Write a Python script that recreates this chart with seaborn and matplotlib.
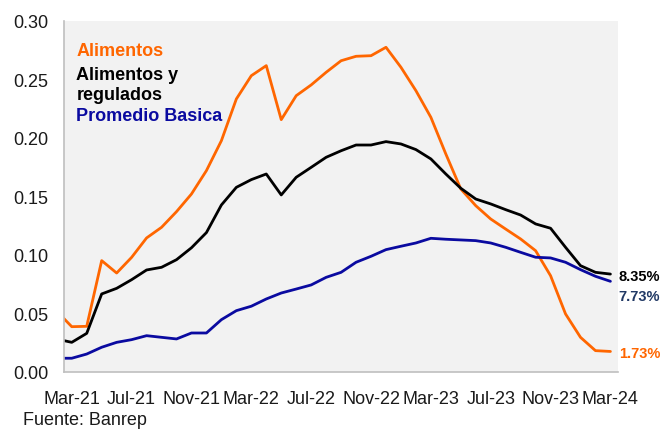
import numpy as np
import pandas as pd
import matplotlib
matplotlib.use("Agg")
import matplotlib.pyplot as plt
import seaborn as sns

# meses (feb-21 queda cortado en el borde izquierdo del eje)
meses = list(pd.date_range("2021-02-01", "2024-03-01", freq="MS").strftime("%b-%y"))

alimentos = [0.0517, 0.0385, 0.0388, 0.0950, 0.0844, 0.0978, 0.1144, 0.1235, 0.1369, 0.1520,
             0.1720, 0.1976, 0.2333, 0.2532, 0.2618, 0.2156, 0.2361, 0.2453, 0.2561, 0.2660,
             0.2698, 0.2703, 0.2775, 0.2604, 0.2404, 0.2176, 0.1862, 0.1563, 0.1420, 0.1306,
             0.1220, 0.1135, 0.1035, 0.0821, 0.0494, 0.0294, 0.0180, 0.0173]
alim_regulados = [0.0279, 0.0251, 0.0328, 0.0665, 0.0713, 0.0787, 0.0870, 0.0893, 0.0958, 0.1060,
                  0.1190, 0.1426, 0.1577, 0.1643, 0.1691, 0.1512, 0.1663, 0.1748, 0.1834, 0.1890,
                  0.1939, 0.1939, 0.1968, 0.1948, 0.1900, 0.1820, 0.1691, 0.1569, 0.1477, 0.1435,
                  0.1386, 0.1340, 0.1264, 0.1227, 0.1064, 0.0907, 0.0850, 0.0835]
promedio_basica = [0.0115, 0.0115, 0.0151, 0.0209, 0.0251, 0.0274, 0.0308, 0.0294, 0.0280, 0.0331,
                   0.0331, 0.0445, 0.0522, 0.0560, 0.0622, 0.0673, 0.0707, 0.0742, 0.0807, 0.0850,
                   0.0936, 0.0987, 0.1044, 0.1073, 0.1101, 0.1141, 0.1133, 0.1127, 0.1121, 0.1101,
                   0.1064, 0.1021, 0.0979, 0.0973, 0.0936, 0.0873, 0.0816, 0.0773]

series = ["Alimentos", "Alimentos y\nregulados", "Promedio Basica"]
colores = ["#FF6600", "#000000", "#0A0AA0"]
etiquetas_x = ["Mar-21", "Jul-21", "Nov-21", "Mar-22", "Jul-22", "Nov-22",
               "Mar-23", "Jul-23", "Nov-23", "Mar-24"]
etiquetas_fin = ["1.73%", "8.35%", "7.73%"]
colores_fin = ["#FF6600", "#000000", "#203864"]

# posicion 0 = Mar-21
pos = np.arange(len(meses)) - 1
df = pd.concat([
    pd.DataFrame({"pos": pos, "valor": alimentos, "serie": series[0]}),
    pd.DataFrame({"pos": pos, "valor": alim_regulados, "serie": series[1]}),
    pd.DataFrame({"pos": pos, "valor": promedio_basica, "serie": series[2]}),
])

sns.set_style("white")
plt.rcParams["font.family"] = ["Liberation Sans", "DejaVu Sans"]

fig = plt.figure(figsize=(6.61, 4.31), dpi=100)
ax = fig.add_axes([0.0968, 0.1353, 0.838, 0.8137])
ax.set_facecolor("#F2F2F2")

sns.lineplot(data=df, x="pos", y="valor", hue="serie", palette=dict(zip(series, colores)),
             linewidth=2, legend=False, ax=ax)

ax.set_xlim(-0.52, 36.5)
ax.set_ylim(0, 0.30)
ax.set_yticks(np.arange(0, 0.31, 0.05))
ax.set_yticklabels(["{:.2f}".format(v) for v in np.arange(0, 0.31, 0.05)])
ax.set_xticks(np.arange(0, 37, 4))
ax.set_xticklabels(etiquetas_x)
ax.tick_params(axis="both", length=0, labelsize=13, colors="#1a1a1a")
ax.tick_params(axis="x", pad=13)
ax.tick_params(axis="y", pad=11)
ax.set_xlabel("")
ax.set_ylabel("")

for s in ["top", "right"]:
    ax.spines[s].set_visible(False)
for s in ["left", "bottom"]:
    ax.spines[s].set_color("#BFBFBF")
    ax.spines[s].set_linewidth(1.2)

# leyenda en texto
ax.text(0.3, 0.275, "Alimentos", color=colores[0], fontsize=13, fontweight="bold", va="center")
ax.text(0.3, 0.2545, "Alimentos y", color=colores[1], fontsize=13, fontweight="bold", va="center")
ax.text(0.3, 0.2375, "regulados", color=colores[1], fontsize=13, fontweight="bold", va="center")
ax.text(0.3, 0.2195, "Promedio Basica", color=colores[2], fontsize=13, fontweight="bold", va="center")

# etiquetas del ultimo dato
for txt, col, yv in zip(etiquetas_fin, colores_fin, [0.016, 0.082, 0.065]):
    ax.text(36.55, yv, txt, color=col, fontsize=10.5, fontweight="bold", va="center", clip_on=False)

fig.text(23 / 661, 1 - 421 / 431, "Fuente: Banrep", fontsize=13, color="#1a1a1a", va="center")

fig.savefig("out.png", dpi=100)
